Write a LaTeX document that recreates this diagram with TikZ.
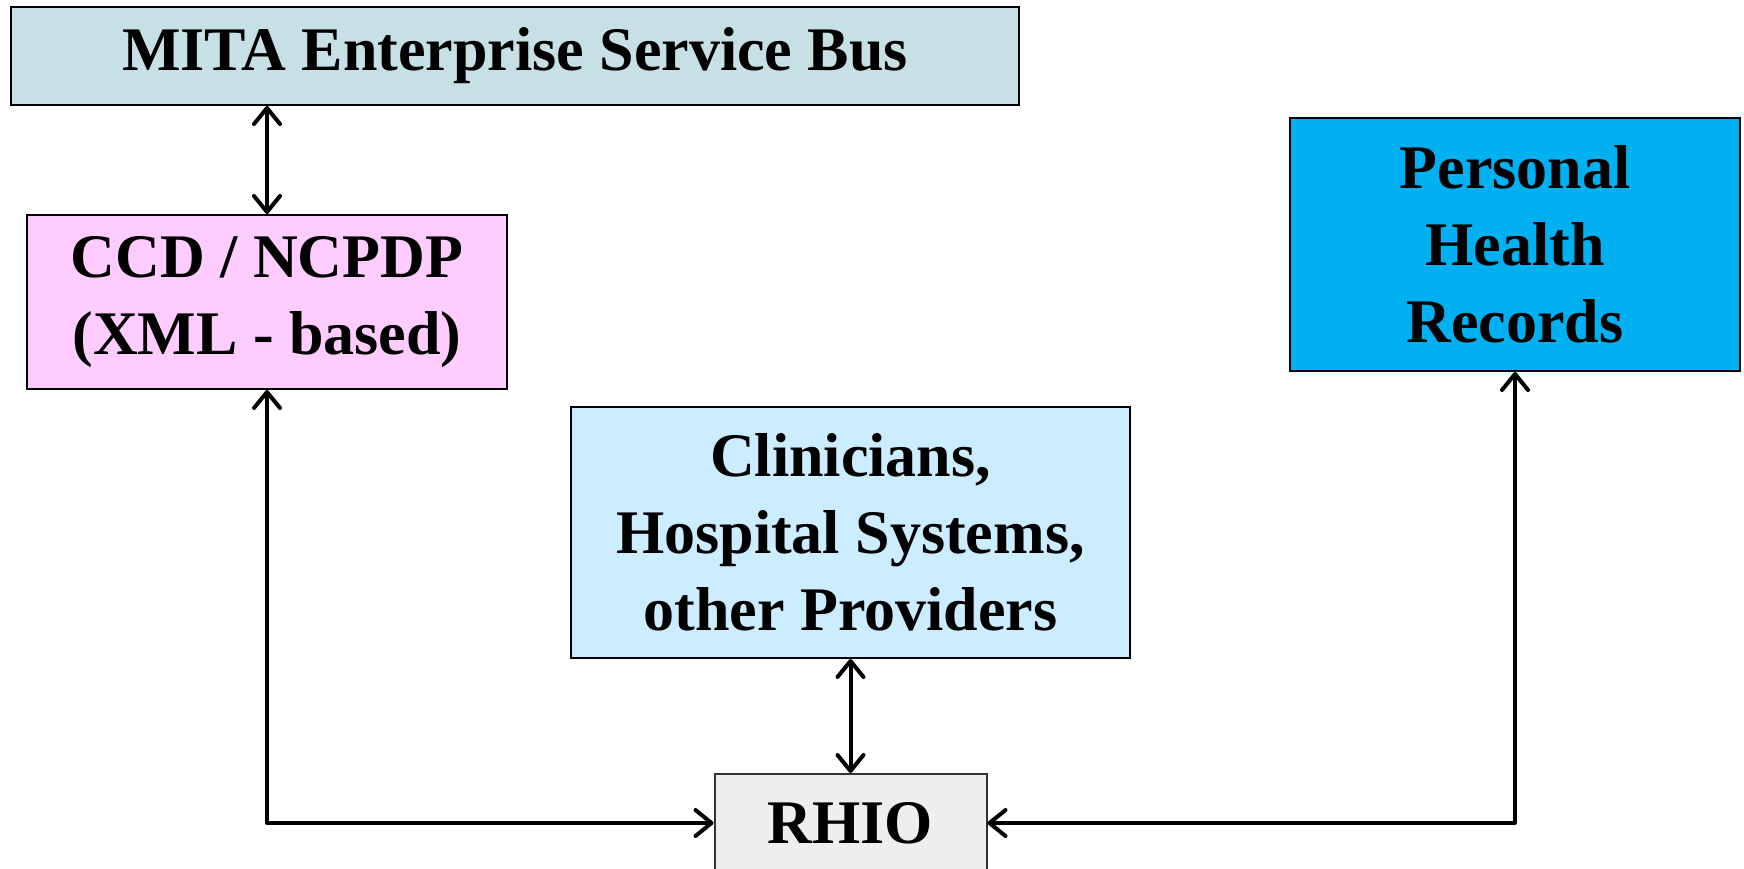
\documentclass[tikz,border=0pt]{standalone}
\usepackage{fontspec}
\setmainfont{Liberation Serif}
\usetikzlibrary{arrows.meta}

\definecolor{busblue}{HTML}{C6E0E5}
\definecolor{ccdpink}{HTML}{FFCCFF}
\definecolor{phrblue}{HTML}{00B0F0}
\definecolor{clinblue}{HTML}{CCECFF}
\definecolor{rhiogrey}{HTML}{EEEEEE}

\begin{document}
\begin{tikzpicture}[x=1pt, y=-1pt,
    box/.style={draw=black, line width=2pt, align=center, inner sep=0pt,
      font=\fontsize{62}{77}\selectfont\bfseries},
    link/.style={line width=4pt, line cap=round, line join=round,
      {Straight Barb[length=16pt,width=26pt,round]}-{Straight Barb[length=16pt,width=26pt,round]}}]
      \useasboundingbox (0, 0) rectangle (1744, 869);

      \node[box, fill=busblue, minimum width=1008pt, minimum height=98pt]
        (mita) at(515, 56){MITA Enterprise Service Bus};
      \node[box, fill=ccdpink, minimum width=480pt, minimum height=174pt]
        (ccd) at(267, 302){CCD / NCPDP\\(XML - based)};
      \node[box, fill=phrblue, minimum width=450pt, minimum height=253pt]
        (phr) at(1515, 244.5){Personal\\Health\\Records};
      \node[box, fill=clinblue, minimum width=559pt, minimum height=251pt]
        (clin) at(850.5, 532.5){Clinicians,\\Hospital Systems,\\other Providers};
      \node[box, fill=rhiogrey, draw=black!80, minimum width=272pt, minimum height=98pt]
        (rhio) at(850.5, 823){RHIO};

      \draw[link] (ccd.north |- mita.south) -- (ccd.north);
      \draw[link] (ccd.south) |- (rhio.west);
      \draw[link] (clin.south) -- (rhio.north);
      \draw[link] (phr.south) |- (rhio.east);

    \end{tikzpicture}
\end{document}
